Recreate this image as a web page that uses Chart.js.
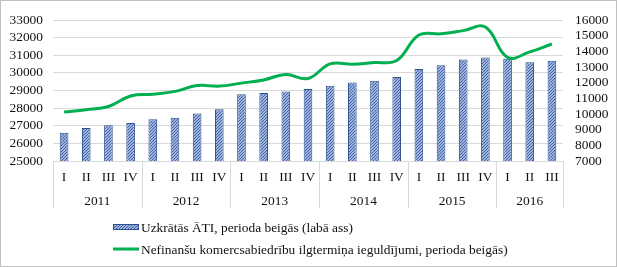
<!DOCTYPE html>
<html>
<head>
<meta charset="utf-8">
<script src="https://cdn.jsdelivr.net/npm/chart.js@4/dist/chart.umd.min.js"></script>
<style>
  html, body { margin: 0; padding: 0; background: #fff; }
  #wrap { width: 617px; height: 267px; }
</style>
</head>
<body>
<div id="wrap"><canvas id="chart" width="617" height="267"></canvas></div>
<script>
// --- data ---
const quarters = ['I','II','III','IV','I','II','III','IV','I','II','III','IV',
                  'I','II','III','IV','I','II','III','IV','I','II','III'];
const years = ['2011','2012','2013','2014','2015','2016'];
const quartersPerYear = [4, 4, 4, 4, 4, 3];

// right axis (bars)
const atiValues = [8800, 9110, 9290, 9420, 9660, 9760, 10030, 10310, 11260, 11340, 11440, 11600,
                   11810, 12010, 12120, 12360, 12870, 13120, 13480, 13610, 13530, 13300, 13400];
// left axis (line)
const investValues = [27780, 27910, 28090, 28690, 28790, 28950, 29280, 29250, 29420, 29600, 29910, 29680,
                      30510, 30490, 30590, 30700, 32150, 32220, 32400, 32600, 30880, 31190, 31640];

const barLabel = 'Uzkrātās ĀTI, perioda beigās (labā ass)';
const lineLabel = 'Nefinanšu komercsabiedrību ilgtermiņa ieguldījumi, perioda beigās)';

const FONT = 'Liberation Serif';
const FSIZE = 13.4;
const TEXT = '#111';
const GRID = '#D9D9D9';
const GREEN = '#00B050';
const BAR_EDGE = '#2F528F';

// diagonal hatch used for the bars
function makeHatch() {
  const c = document.createElement('canvas');
  c.width = 3; c.height = 3;
  const g = c.getContext('2d');
  g.fillStyle = '#fff';
  g.fillRect(0, 0, 3, 3);
  g.strokeStyle = '#3E64B0';
  g.lineWidth = 1.4;
  g.beginPath();
  g.moveTo(0, 3); g.lineTo(3, 0);
  g.moveTo(-1, 1); g.lineTo(1, -1);
  g.moveTo(2, 4); g.lineTo(4, 2);
  g.stroke();
  return g.createPattern(c, 'repeat');
}
const hatch = makeHatch();

// year groups, separators, legend and frame
const extras = {
  id: 'extras',
  afterDraw(chart) {
    const ctx = chart.ctx;
    const area = chart.chartArea;
    const xs = chart.scales.x;
    const step = (area.right - area.left) / quarters.length;
    ctx.save();

    // separators between years
    ctx.strokeStyle = GRID;
    ctx.lineWidth = 1;
    let idx = 0;
    const bounds = [0];
    quartersPerYear.forEach(n => { idx += n; bounds.push(idx); });
    bounds.forEach(b => {
      const x = Math.round(xs.getPixelForValue(0) - step / 2 + b * step) + 0.5;
      ctx.beginPath();
      ctx.moveTo(x, area.bottom);
      ctx.lineTo(x, area.bottom + 47);
      ctx.stroke();
    });

    // year labels
    ctx.fillStyle = TEXT;
    ctx.font = FSIZE + 'px "' + FONT + '"';
    ctx.textAlign = 'center';
    ctx.textBaseline = 'middle';
    years.forEach((y, i) => {
      const x0 = xs.getPixelForValue(0) - step / 2 + bounds[i] * step;
      const x1 = xs.getPixelForValue(0) - step / 2 + bounds[i + 1] * step;
      ctx.fillText(y, (x0 + x1) / 2, area.bottom + 40);
    });

    // legend
    ctx.textAlign = 'left';
    ctx.fillStyle = hatch;
    ctx.fillRect(113, 224, 26, 6);
    ctx.strokeStyle = BAR_EDGE;
    ctx.strokeRect(113.5, 224.5, 25, 5);
    ctx.fillStyle = TEXT;
    ctx.fillText(barLabel, 141, 228);

    ctx.strokeStyle = GREEN;
    ctx.lineWidth = 3;
    ctx.beginPath();
    ctx.moveTo(113, 249);
    ctx.lineTo(139, 249);
    ctx.stroke();
    ctx.fillText(lineLabel, 141, 250);

    // outer frame
    ctx.strokeStyle = '#BFBFBF';
    ctx.lineWidth = 1;
    ctx.strokeRect(0.5, 0.5, chart.width - 1, chart.height - 1);
    ctx.restore();
  }
};

const plain = v => String(v);

new Chart(document.getElementById('chart'), {
  data: {
    labels: quarters,
    datasets: [
      {
        type: 'line',
        label: lineLabel,
        data: investValues,
        yAxisID: 'y',
        borderColor: GREEN,
        borderWidth: 3,
        pointRadius: 0,
        tension: 0.4,
        fill: false,
        order: 0
      },
      {
        type: 'bar',
        label: barLabel,
        data: atiValues,
        yAxisID: 'y1',
        backgroundColor: hatch,
        borderColor: BAR_EDGE,
        borderWidth: 1,
        categoryPercentage: 1,
        barPercentage: 0.39,
        order: 1
      }
    ]
  },
  options: {
    responsive: false,
    devicePixelRatio: 1,
    animation: false,
    layout: { padding: { top: 15, left: 0, right: 0, bottom: 0 } },
    plugins: { legend: { display: false }, tooltip: { enabled: false } },
    scales: {
      x: {
        grid: { display: false, drawTicks: false },
        border: { color: GRID },
        ticks: { color: TEXT, font: { family: FONT, size: FSIZE }, padding: 8, autoSkip: false, maxRotation: 0 },
        afterFit: s => { s.height = 106; }
      },
      y: {
        position: 'left',
        min: 25000, max: 33000,
        grid: { color: GRID, drawTicks: false },
        border: { display: false },
        ticks: { stepSize: 1000, autoSkip: false, callback: plain, color: TEXT, font: { family: FONT, size: FSIZE }, padding: 10 },
        afterFit: s => { s.width = 53; }
      },
      y1: {
        position: 'right',
        min: 7000, max: 16000,
        grid: { display: false, drawTicks: false },
        border: { display: false },
        ticks: { stepSize: 1000, autoSkip: false, callback: plain, color: TEXT, font: { family: FONT, size: FSIZE }, padding: 12 },
        afterFit: s => { s.width = 54; }
      }
    }
  },
  plugins: [extras]
});
</script>
</body>
</html>
